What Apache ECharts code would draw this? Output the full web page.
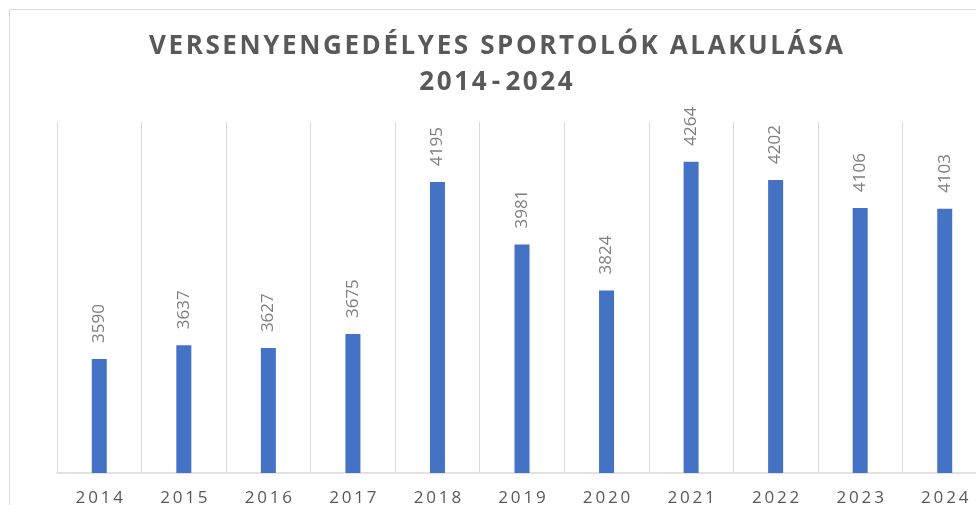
<!DOCTYPE html>
<html>
<head>
<meta charset="utf-8">
<script src="https://cdn.jsdelivr.net/npm/echarts@6/dist/echarts.min.js"></script>
<style>
  html, body { margin: 0; padding: 0; background: #fff; }
  #main { width: 976px; height: 505px; }
</style>
</head>
<body>
<div id="main"></div>
<script>
// adatok
var years = ['2014', '2015', '2016', '2017', '2018', '2019', '2020', '2021', '2022', '2023', '2024'];
var sportolok = [3590, 3637, 3627, 3675, 4195, 3981, 3824, 4264, 4202, 4106, 4103];
var titleLines = ['VERSENYENGEDÉLYES SPORTOLÓK ALAKULÁSA', '2014-2024'];

// betuk kozti ritkitas (echarts-ban nincs letterSpacing)
function spaced(s, sep) {
  return s.split('').join(sep);
}

var chart = echarts.init(document.getElementById('main'), null, { renderer: 'canvas' });

var option = {
  animation: false,
  backgroundColor: '#ffffff',
  graphic: [
    // diagram kerete
    {
      type: 'rect',
      shape: { x: 9.5, y: 9.5, width: 1000, height: 600 },
      style: { fill: 'none', stroke: '#d9d9d9', lineWidth: 1 },
      silent: true
    },
    // cim, ket sorban
    {
      type: 'text',
      x: 496,
      y: 47,
      style: {
        text: spaced(titleLines[0], '\u200A'),
        font: 'bold 26px "Open Sans"',
        fill: '#595959',
        align: 'center',
        verticalAlign: 'middle'
      }
    },
    {
      type: 'text',
      x: 496,
      y: 83,
      style: {
        text: spaced(titleLines[1], '\u200A').replace(/-/g, '\u200A-\u200A'),
        font: 'bold 26px "Open Sans"',
        fill: '#595959',
        align: 'center',
        verticalAlign: 'middle'
      }
    }
  ],
  grid: {
    left: 57,
    top: 122,
    width: 930,
    bottom: 32,
    outerBoundsMode: 'none'
  },
  xAxis: {
    type: 'category',
    data: years,
    axisLine: { lineStyle: { color: '#d9d9d9', width: 1.5 } },
    axisTick: { show: false },
    splitLine: { show: true, interval: 0, lineStyle: { color: '#d9d9d9', width: 1 } },
    axisLabel: {
      interval: 0,
      margin: 17,
      color: '#595959',
      fontFamily: 'Open Sans',
      fontSize: 17,
      formatter: function (v) { return spaced(v, '\u2009'); }
    }
  },
  yAxis: {
    type: 'value',
    min: 3200,
    max: 4400,
    show: false,
    splitLine: { show: false }
  },
  series: [
    {
      name: 'Sportolók',
      type: 'bar',
      data: sportolok,
      barWidth: 15,
      itemStyle: { color: '#4472C4' },
      label: {
        show: true,
        position: 'top',
        rotate: 90,
        align: 'left',
        verticalAlign: 'middle',
        distance: 16,
        color: '#7f7f7f',
        fontFamily: 'Open Sans',
        fontSize: 17
      }
    }
  ]
};

chart.setOption(option);
</script>
</body>
</html>
